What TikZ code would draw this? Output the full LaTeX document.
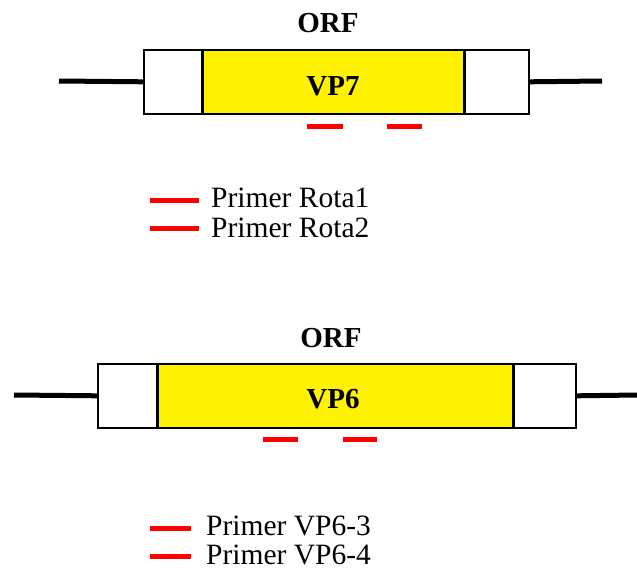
\documentclass[tikz,border=0pt]{standalone}
\usepackage{fontspec}
\setmainfont{Liberation Serif}
\begin{document}
\begin{tikzpicture}[x=1pt,y=-1pt,
  utr/.style={draw=black, line width=1.6pt, fill=white, inner sep=0pt, anchor=north west, minimum height=64pt},
  cds/.style={draw=black, line width=1.6pt, fill=yellow, inner sep=0pt, anchor=north west, minimum height=64pt},
  divider/.style={line width=3pt},
  flank/.style={line width=5pt},
  primer/.style={draw=red, line width=5pt},
  title/.style={font=\bfseries\fontsize{29}{33}\selectfont},
  genename/.style={font=\bfseries\fontsize{29}{33}\selectfont},
  legend/.style={anchor=base west, inner sep=0pt, text depth=0pt, font=\fontsize{29.5}{33}\selectfont}]
\useasboundingbox (0,0) rectangle (637,570);

% ---- VP7 gene ----
\node[utr, minimum width=59pt] (l7) at (143,49) {};
\node[cds, minimum width=261pt] (c7) at (202,49) {};
\node[utr, minimum width=65pt] (r7) at (463,49) {};
\draw[divider] (c7.north west) -- (c7.south west) (c7.north east) -- (c7.south east);
\coordinate (a7) at (59,81);
\coordinate (b7) at (602,81);
\draw[flank] (a7) -- (l7.west);
\draw[flank] (r7.east) -- (b7);
\node[title] (orf7) at (328,23) {ORF};
\node[genename] (vp7) at (333,86) {VP7};
\coordinate (p1a) at (307,126); \coordinate (p1b) at (343,126);
\coordinate (p2a) at (387,126); \coordinate (p2b) at (422,126);
\draw[primer] (p1a) -- (p1b);
\draw[primer] (p2a) -- (p2b);

% legend for VP7 primers
\coordinate (k1a) at (150,200); \coordinate (k1b) at (199,200);
\coordinate (k2a) at (150,228); \coordinate (k2b) at (199,228);
\draw[primer] (k1a) -- (k1b);
\draw[primer] (k2a) -- (k2b);
\node[legend] (t1) at (211,207) {Primer Rota1};
\node[legend] (t2) at (211,237) {Primer Rota2};

% ---- VP6 gene ----
\node[utr, minimum width=60pt] (l6) at (97,363) {};
\node[cds, minimum width=355pt] (c6) at (157,363) {};
\node[utr, minimum width=63pt] (r6) at (512,363) {};
\draw[divider] (c6.north west) -- (c6.south west) (c6.north east) -- (c6.south east);
\coordinate (a6) at (14,395);
\coordinate (b6) at (637,395);
\draw[flank] (a6) -- (l6.west);
\draw[flank] (r6.east) -- (b6);
\node[title] (orf6) at (331,338) {ORF};
\node[genename] (vp6) at (333,399) {VP6};
\coordinate (p3a) at (263,439); \coordinate (p3b) at (298,439);
\coordinate (p4a) at (343,439); \coordinate (p4b) at (377,439);
\draw[primer] (p3a) -- (p3b);
\draw[primer] (p4a) -- (p4b);

% legend for VP6 primers
\coordinate (k3a) at (150,528); \coordinate (k3b) at (191,528);
\coordinate (k4a) at (150,556); \coordinate (k4b) at (191,556);
\draw[primer] (k3a) -- (k3b);
\draw[primer] (k4a) -- (k4b);
\node[legend] (t3) at (206,535) {Primer VP6-3};
\node[legend] (t4) at (206,564) {Primer VP6-4};
\end{tikzpicture}
\end{document}
